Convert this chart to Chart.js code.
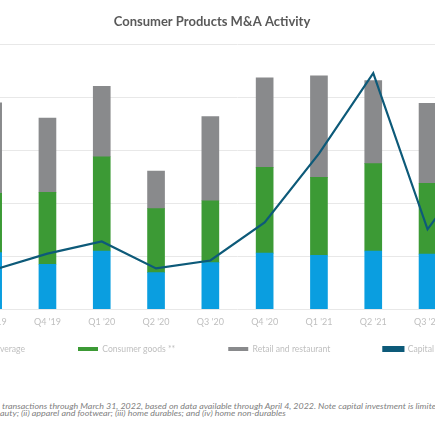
<!DOCTYPE html>
<html>
<head>
<meta charset="utf-8">
<script src="https://cdn.jsdelivr.net/npm/chart.js@4"></script>
<style>
  html, body { margin: 0; padding: 0; background: #fff; }
  body { width: 435px; height: 435px; overflow: hidden; position: relative; }
  #wrap { position: absolute; left: -136px; top: 0; width: 696px; height: 371px; }
  .note { position: absolute; white-space: nowrap; font-family: Lato, sans-serif; font-style: italic;
          font-size: 8.9px; color: #7f7f7f; transform: scale(1, 0.85); transform-origin: 0 0; }
</style>
</head>
<body>
<div id="wrap"><canvas id="myChart"></canvas></div>
<div class="note" id="note1" style="left:2px; top:401px;">transactions through March 31, 2022, based on data available through April 4, 2022. Note capital investment is limited to transactions with disclosed values</div>
<div class="note" id="note2" style="left:0px; top:408px;"><span id="cut">be</span>auty; (ii) apparel and footwear; (iii) home durables; and (iv) home non-durables</div>
<script>
// Quarters shown in the picture (left and right ones are cut by the frame)
const quarters = ["Q3 '19", "Q4 '19", "Q1 '20", "Q2 '20", "Q3 '20", "Q4 '20", "Q1 '21", "Q2 '21", "Q3 '21", "Q4 '21"];

// Deal counts per sector (stacked bars), Q4 '21 bars are outside the picture
const foodBeverage = [107, 85, 110, 69, 88, 106, 102, 110, 104, null];
const consumerGoods = [112, 136, 178, 121, 117, 162, 147, 165, 134, null];
const retailRestaurant = [171, 140, 133, 71, 159, 169, 192, 157, 151, null];

// Capital investment (right axis)
const capitalInvestment = [7.4, 10.5, 12.8, 7.7, 9.2, 16.4, 29.4, 44.6, 15.1, 28.9];

// shift the second note line so the cut word starts at the frame edge
const cut = document.getElementById('cut');
document.getElementById('note2').style.left = (-cut.getBoundingClientRect().width) + 'px';

// legend padding is wide (for the gaps between items), so place the row by hand
const legendShift = {
    id: 'legendShift',
    afterLayout(chart) {
        const legend = chart.legend;
        const pad = legend.options.labels.padding;
        legend.top = 349 - pad - legend.options.labels.font.size / 2;
        legend.bottom = legend.top + pad + 30;
        legend.left -= 8.5;
        legend.right -= 8.5;
    }
};

const ctx = document.getElementById('myChart').getContext('2d');
const myChart = new Chart(ctx, {
    type: 'bar',
    data: {
        labels: quarters,
        datasets: [
            {
                label: 'Food and beverage',
                data: foodBeverage,
                backgroundColor: '#0a9ee0',
                yAxisID: 'y',
                order: 1
            },
            {
                label: 'Consumer goods **',
                data: consumerGoods,
                backgroundColor: '#3c9a35',
                yAxisID: 'y',
                order: 1
            },
            {
                label: 'Retail and restaurant',
                data: retailRestaurant,
                backgroundColor: '#898a8c',
                yAxisID: 'y',
                order: 1
            },
            {
                type: 'line',
                label: 'Capital investment',
                data: capitalInvestment,
                borderColor: '#0d5a79',
                backgroundColor: '#0d5a79',
                borderWidth: 2.2,
                pointRadius: 0,
                tension: 0,
                yAxisID: 'y1',
                order: 0
            }
        ]
    },
    options: {
        responsive: true,
        maintainAspectRatio: false,
        animation: false,
        barThickness: 17,
        layout: {
            padding: { top: 0, bottom: 0 }
        },
        scales: {
            x: {
                stacked: true,
                grid: { display: false, drawTicks: false },
                border: { display: false },
                ticks: {
                    color: '#bfbfbf',
                    padding: 7,
                    font: { family: 'Lato', size: 9 }
                }
            },
            y: {
                stacked: true,
                min: 0,
                max: 500,
                ticks: { display: false, stepSize: 100 },
                grid: { color: '#e8e8e8', drawTicks: false },
                border: { display: false },
                afterFit: (scale) => { scale.width = 102; }
            },
            y1: {
                position: 'right',
                min: 0,
                max: 50,
                ticks: { display: false },
                grid: { display: false },
                border: { display: false },
                afterFit: (scale) => { scale.width = 51; }
            }
        },
        plugins: {
            title: {
                display: true,
                text: 'Consumer Products M&A Activity',
                color: '#595959',
                font: { family: 'Lato', size: 13, weight: 'bold' },
                padding: { top: 14, bottom: 15 }
            },
            legend: {
                position: 'bottom',
                maxHeight: 37,
                labels: {
                    boxWidth: 20,
                    boxHeight: 4,
                    padding: 53,
                    color: '#bfbfbf',
                    font: { family: 'Lato', size: 8.6 },
                    sort: (a, b) => a.datasetIndex - b.datasetIndex
                }
            },
            tooltip: { enabled: false }
        }
    },
    plugins: [legendShift]
});
</script>
</body>
</html>
